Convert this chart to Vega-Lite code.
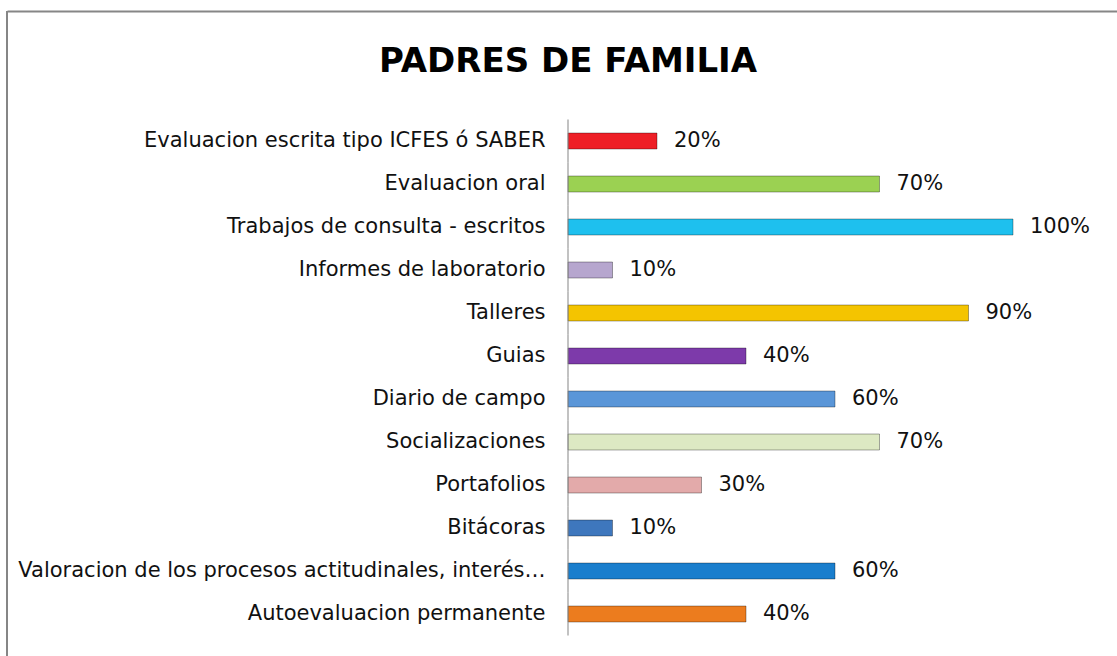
{
  "$schema": "https://vega.github.io/schema/vega-lite/v6.json",
  "width": 1110,
  "height": 645,
  "autosize": {"type": "none"},
  "padding": {"left": 7, "top": 11, "right": 0, "bottom": 0},
  "background": "white",
  "config": {
    "view": {"stroke": null},
    "font": "DejaVu Sans"
  },
  "title": {
    "text": "PADRES DE FAMILIA",
    "fontSize": 34,
    "font": "DejaVu Sans",
    "fontWeight": "bold",
    "color": "#000000",
    "anchor": "middle",
    "offset": -69,
    "dx": 6
  },
  "data": {
    "values": [
      {"label": "Evaluacion escrita tipo ICFES ó SABER", "value": 20, "text": "20%", "color": "#EE1F26"},
      {"label": "Evaluacion oral", "value": 70, "text": "70%", "color": "#9BD152"},
      {"label": "Trabajos de consulta - escritos", "value": 100, "text": "100%", "color": "#1EC0EE"},
      {"label": "Informes de laboratorio", "value": 10, "text": "10%", "color": "#B6A6CE"},
      {"label": "Talleres", "value": 90, "text": "90%", "color": "#F4C400"},
      {"label": "Guias", "value": 40, "text": "40%", "color": "#7D3AAA"},
      {"label": "Diario de campo", "value": 60, "text": "60%", "color": "#5A96D8"},
      {"label": "Socializaciones", "value": 70, "text": "70%", "color": "#DDE9C3"},
      {"label": "Portafolios", "value": 30, "text": "30%", "color": "#E3AAAA"},
      {"label": "Bitácoras", "value": 10, "text": "10%", "color": "#3E77BD"},
      {"label": "Valoracion de los procesos actitudinales, interés…", "value": 60, "text": "60%", "color": "#1A7ECD"},
      {"label": "Autoevaluacion permanente", "value": 40, "text": "40%", "color": "#EC7C1E"}
    ]
  },
  "encoding": {
    "y": {
      "field": "label",
      "type": "nominal",
      "sort": null,
      "scale": {"paddingInner": 0, "paddingOuter": 0, "range": [108.5, 624.5]},
      "axis": {
        "title": null,
        "domain": false,
        "ticks": false,
        "grid": false,
        "labelPadding": -538,
        "labelAlign": "right",
        "labelFontSize": 21,
        "labelFont": "DejaVu Sans",
        "labelColor": "#111111",
        "labelLimit": 700
      }
    },
    "x": {
      "field": "value",
      "type": "quantitative",
      "scale": {"domain": [-126.07, 123.37], "nice": false, "zero": false},
      "axis": {
        "orient": "top",
        "title": null,
        "domain": true,
        "domainColor": "#868686",
        "domainWidth": 2,
        "ticks": false,
        "labels": false,
        "grid": false
      }
    }
  },
  "layer": [
    {
      "mark": {"type": "bar", "height": 16, "stroke": "#00000055", "strokeWidth": 1},
      "encoding": {"color": {"field": "color", "type": "nominal", "scale": null}}
    },
    {
      "mark": {"type": "tick", "orient": "vertical", "size": 43, "thickness": 1.5, "color": "#8A8A8A"},
      "encoding": {"x": {"datum": 0}}
    },
    {
      "data": {"values": [{"edge": -126.07}]},
      "mark": {"type": "rule", "color": "#868686", "strokeWidth": 2},
      "encoding": {"x": {"field": "edge", "type": "quantitative"}, "y": null}
    },
    {
      "mark": {"type": "text", "align": "left", "baseline": "middle", "dx": 17, "fontSize": 21, "font": "DejaVu Sans", "color": "#111111"},
      "encoding": {"text": {"field": "text"}}
    }
  ]
}
